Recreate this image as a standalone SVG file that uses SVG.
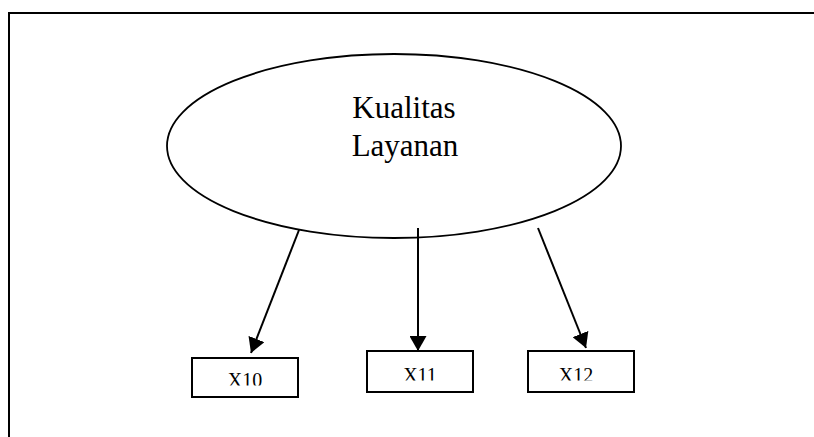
<svg xmlns="http://www.w3.org/2000/svg" width="814" height="437" viewBox="0 0 814 437">
  <style>
    .frame { fill: none; stroke: #000; stroke-width: 2; }
    .latent { fill: #fff; stroke: #000; stroke-width: 1.8; }
    .box { fill: #fff; stroke: #000; stroke-width: 2; }
    .title { font-family: "Liberation Serif", "Times New Roman", serif; font-size: 31px; text-anchor: middle; fill: #000; }
    .lbl { font-family: "Liberation Serif", "Times New Roman", serif; font-size: 20px; text-anchor: middle; fill: #000; }
    .edge { stroke: #000; stroke-width: 2; fill: none; marker-end: url(#arrow); }
  </style>
  <defs>
    <marker id="arrow" markerUnits="userSpaceOnUse" markerWidth="16" markerHeight="17" refX="15" refY="8.5" orient="auto">
      <path d="M0,0 L15,8.5 L0,17 Z" fill="#000"/>
    </marker>
    <clipPath id="clipX10"><rect x="192" y="358" width="106" height="27.5"/></clipPath>
    <clipPath id="clipX11"><rect x="367" y="351" width="106" height="29.5"/></clipPath>
    <clipPath id="clipX12"><rect x="528" y="351" width="106" height="29.5"/></clipPath>
  </defs>

  <rect width="814" height="437" fill="#fff"/>
  <!-- outer frame (left and top edges) -->
  <path class="frame" d="M9,437 V13 H814"/>

  <g id="kualitas-layanan">
    <ellipse class="latent" cx="394" cy="146" rx="227" ry="92"/>
    <text class="title" x="404" y="118">Kualitas</text>
    <text class="title" x="405" y="156">Layanan</text>
  </g>

  <g id="connectors">
    <line class="edge" x1="299" y1="230" x2="251" y2="353"/>
    <line class="edge" x1="418" y1="228" x2="418" y2="351"/>
    <line class="edge" x1="538" y1="228" x2="586" y2="348"/>
  </g>

  <g id="x10">
    <rect class="box" x="192" y="358" width="106" height="39"/>
    <text class="lbl" x="245" y="386.5" clip-path="url(#clipX10)">X10</text>
  </g>
  <g id="x11">
    <rect class="box" x="367" y="351" width="106" height="41"/>
    <text class="lbl" x="420" y="381.5" clip-path="url(#clipX11)">X11</text>
  </g>
  <g id="x12">
    <rect class="box" x="528" y="351" width="106" height="41"/>
    <text class="lbl" x="576" y="381.5" clip-path="url(#clipX12)">X12</text>
  </g>
</svg>
